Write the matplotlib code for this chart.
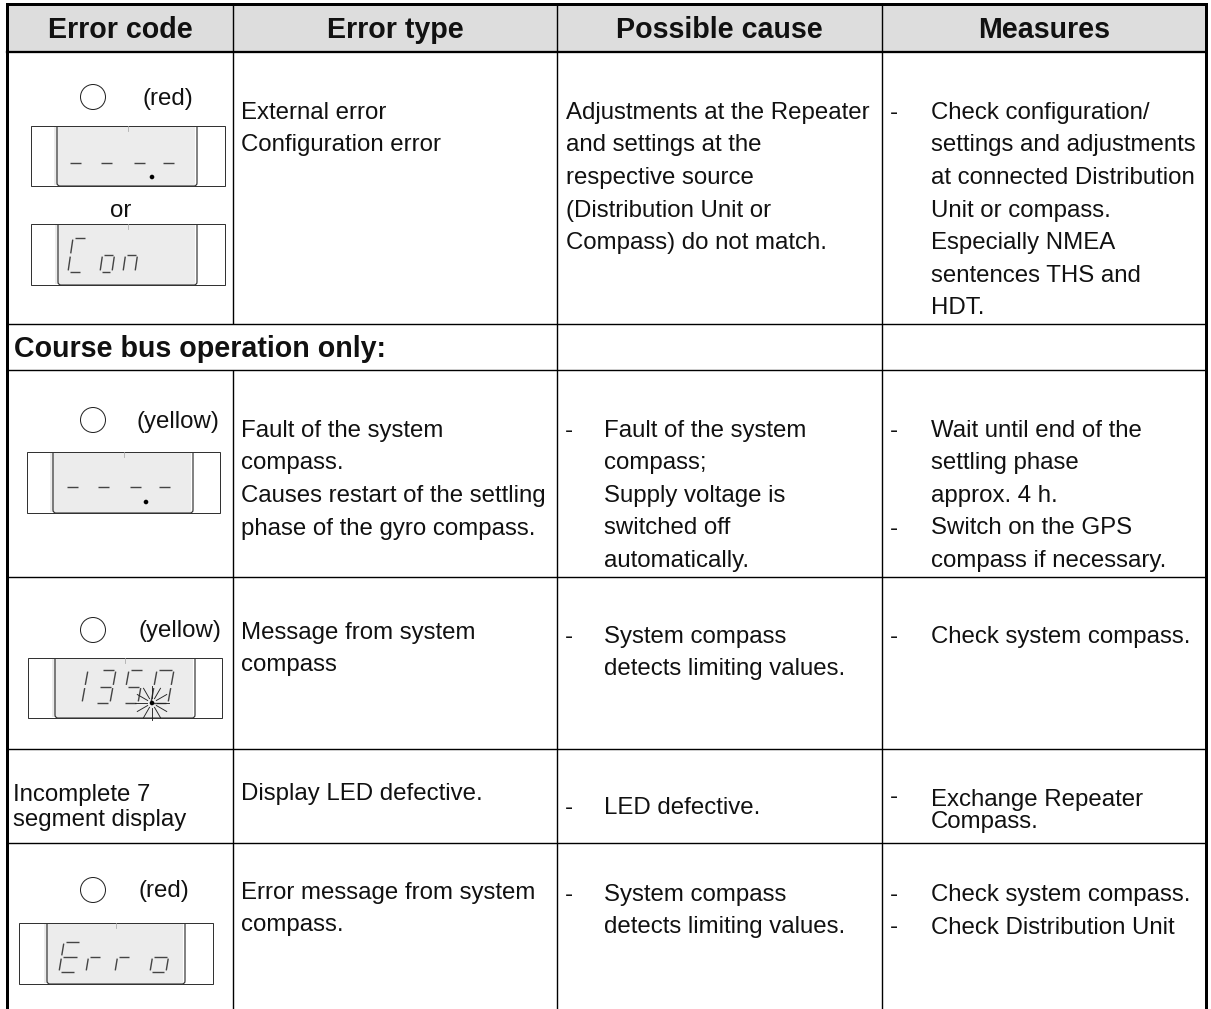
import matplotlib
matplotlib.use("Agg")
import matplotlib.pyplot as plt
from matplotlib.patches import Circle, Rectangle, PathPatch
from matplotlib.path import Path
import numpy as np

plt.rcParams['font.family'] = ['Liberation Sans', 'DejaVu Sans']

# ---------------- table content ----------------
header = ["Error code", "Error type", "Possible cause", "Measures"]
section_title = "Course bus operation only:"

led_colors = ["(red)", "(yellow)", "(yellow)", "(red)"]

row1_type = ["External error", "Configuration error"]
row1_cause = ["Adjustments at the Repeater", "and settings at the", "respective source",
              "(Distribution Unit or", "Compass) do not match."]
row1_measures = [["Check configuration/", "settings and adjustments", "at connected Distribution",
                  "Unit or compass.", "Especially NMEA", "sentences THS and", "HDT."]]

row3_type = ["Fault of the system", "compass.", "Causes restart of the settling",
             "phase of the gyro compass."]
row3_cause = [["Fault of the system", "compass;", "Supply voltage is", "switched off", "automatically."]]
row3_measures = [["Wait until end of the", "settling phase", "approx. 4 h."],
                 ["Switch on the GPS", "compass if necessary."]]

row4_type = ["Message from system", "compass"]
row4_cause = [["System compass", "detects limiting values."]]
row4_measures = [["Check system compass."]]

row5_code = ["Incomplete 7", "segment display"]
row5_type = ["Display LED defective."]
row5_cause = [["LED defective."]]
row5_measures = [["Exchange Repeater", "Compass."]]

row6_type = ["Error message from system", "compass."]
row6_cause = [["System compass", "detects limiting values."]]
row6_measures = [["Check system compass."], ["Check Distribution Unit"]]

display_texts = ["---.-", "Con", "---.-", "135.0", "Erro"]

# ---------------- layout (pixels) ----------------
W, H = 1211, 1009
fig = plt.figure(figsize=(W / 100, H / 100), dpi=100)
ax = fig.add_axes([0, 0, 1, 1])
ax.set_xlim(0, W)
ax.set_ylim(H, 0)
ax.axis('off')

PX = 0.72  # points per pixel
cols = [7, 233, 557, 882, 1206]
top_y, head_y = 4, 52
rows = [324, 370, 577, 749, 843]
TXT = '#111111'
BODY = 17.3
BOLD = 20.6

# header fill
ax.add_patch(Rectangle((cols[0], top_y), cols[-1] - cols[0], head_y - top_y,
                       facecolor='#dddddd', edgecolor='none', zorder=0))

def hline(y, x0, x1, lw):
    ax.plot([x0, x1], [y, y], color='black', lw=lw * PX, solid_capstyle='projecting', zorder=3)

def vline(x, y0, y1, lw):
    ax.plot([x, x], [y0, y1], color='black', lw=lw * PX, solid_capstyle='butt', zorder=3)

# outer borders
hline(top_y, cols[0], cols[-1], 3)
hline(head_y, cols[0], cols[-1], 2.3)
vline(cols[0], top_y - 1.5, H, 3)
vline(cols[-1], top_y - 1.5, H, 3)
for y in rows:
    hline(y, cols[0], cols[-1], 1.4)
# inner vertical lines
vline(cols[1], top_y, rows[0], 1.4)
vline(cols[1], rows[1], H, 1.4)
vline(cols[2], top_y, H, 1.4)
vline(cols[3], top_y, H, 1.4)

# header texts
for i, t in enumerate(header):
    ax.text((cols[i] + cols[i + 1]) / 2, 38, t, fontsize=BOLD, fontweight='bold',
            ha='center', va='baseline', color=TXT)
ax.text(14, 357, section_title, fontsize=BOLD, fontweight='bold', ha='left', va='baseline', color=TXT)

PITCH = 32.5

def lines(x, y0, items, pitch=PITCH, size=BODY):
    for k, t in enumerate(items):
        ax.text(x, y0 + k * pitch, t, fontsize=size, ha='left', va='baseline', color=TXT)

def bullets(xd, xt, y0, groups, pitch=PITCH, dash_dy=0):
    k = 0
    for g in groups:
        ax.text(xd, y0 + k * pitch + dash_dy, "-", fontsize=BODY, ha='left', va='baseline', color=TXT)
        for t in g:
            ax.text(xt, y0 + k * pitch, t, fontsize=BODY, ha='left', va='baseline', color=TXT)
            k += 1

TX = 241       # error type column text x
CX = 566       # cause column text x (no bullet)
CD, CT = 565, 604
MD, MT = 890, 931

# row 1
lines(TX, 119, row1_type)
lines(CX, 119, row1_cause)
bullets(MD, MT, 119, row1_measures)
# row 3
lines(TX, 437, row3_type)
bullets(CD, CT, 437, row3_cause)
bullets(MD, MT, 437, row3_measures)
# row 4
lines(TX, 639, row4_type)
bullets(CD, CT, 643, row4_cause)
bullets(MD, MT, 643, row4_measures)
# row 5
lines(13, 801, row5_code, pitch=25)
lines(TX, 800, row5_type)
bullets(CD, CT, 814, row5_cause)
bullets(MD, MT, 806, row5_measures, pitch=22, dash_dy=-3)
# row 6
lines(TX, 899, row6_type)
bullets(CD, CT, 901, row6_cause)
bullets(MD, MT, 901, row6_measures)

# ---------------- LED indicators ----------------
led_pos = [(93, 97, 142, 105), (93, 420, 137, 428), (93, 630, 138, 637), (93, 890, 139, 897)]
for (cx, cy, tx, ty), lab in zip(led_pos, led_colors):
    ax.add_patch(Circle((cx, cy), 12.5, facecolor='white', edgecolor='#222222', lw=1.0 * PX, zorder=4))
    ax.text(tx, ty, lab, fontsize=BODY, ha='left', va='baseline', color=TXT)

ax.text(121, 217, "or", fontsize=BODY, ha='center', va='baseline', color=TXT)

# ---------------- 7-segment displays ----------------
SEGS = {'-': 'g', '0': 'abcdef', '1': 'bc', '3': 'abcdg', '5': 'afgcd',
        'C': 'afed', 'o': 'gcde', 'n': 'gce', 'E': 'afged', 'r': 'ge'}

def draw_box(x0, x1, y0, y1, xl, xr):
    ax.add_patch(Rectangle((x0, y0), x1 - x0, y1 - y0, facecolor='white',
                           edgecolor='#333333', lw=1.0 * PX, zorder=4))
    ax.add_patch(Rectangle((xl - 3, y0 + 1), xr - xl + 1, y1 - y0 - 2, facecolor='#ececec',
                           edgecolor='none', zorder=4))
    r = 3
    verts = [(xl, y0 + 1), (xl, y1 - r), (xl, y1), (xl + r, y1), (xr - r, y1), (xr, y1),
             (xr, y1 - r), (xr, y0 + 1)]
    codes = [Path.MOVETO, Path.LINETO, Path.CURVE3, Path.CURVE3, Path.LINETO, Path.CURVE3,
             Path.CURVE3, Path.LINETO]
    ax.add_patch(PathPatch(Path(verts, codes), facecolor='none', edgecolor='#333333',
                           lw=1.2 * PX, zorder=5))
    xm = (x0 + x1) / 2
    ax.plot([xm, xm], [y0, y0 + 5], color='#aaaaaa', lw=0.8 * PX, zorder=5)

def draw_char(ch, x, ytop, ybot, w, sl, col='#444444', lw=1.4):
    h = ybot - ytop
    g = 1.6
    gv = g / h
    segdef = {
        'a': ((g, 1), (w - g, 1)),
        'b': ((w, 1 - gv), (w, 0.5 + gv)),
        'c': ((w, 0.5 - gv), (w, gv)),
        'd': ((g, 0), (w - g, 0)),
        'e': ((0, gv), (0, 0.5 - gv)),
        'f': ((0, 0.5 + gv), (0, 1 - gv)),
        'g': ((g, 0.5), (w - g, 0.5)),
    }
    for s in SEGS.get(ch, ''):
        (u0, v0), (u1, v1) = segdef[s]
        X = [x + u0 + sl * v0, x + u1 + sl * v1]
        Y = [ybot - v0 * h, ybot - v1 * h]
        ax.plot(X, Y, color=col, lw=lw * PX, solid_capstyle='butt', zorder=6)

def draw_display(text, box, cells, widths, ytop, ybot, sl, dot=None, flash=False):
    draw_box(*box)
    chars = [c for c in text if c != '.']
    for ch, cx, w in zip(chars, cells, widths):
        draw_char(ch, cx, ytop, ybot, w, sl)
    if dot is not None:
        ax.add_patch(Circle(dot, 2.3, facecolor='black', edgecolor='none', zorder=7))
        if flash:
            for ang in np.linspace(0, 2 * np.pi, 12, endpoint=False):
                ax.plot([dot[0] + 5 * np.cos(ang), dot[0] + 17 * np.cos(ang)],
                        [dot[1] + 5 * np.sin(ang), dot[1] + 17 * np.sin(ang)],
                        color='#222222', lw=0.9 * PX, zorder=7)

draw_display(display_texts[0], (31, 225, 126, 186, 57, 197), [66, 97, 130, 159], [14] * 4,
             146, 180, 5, dot=(152, 177))
draw_display(display_texts[1], (31, 225, 224, 285, 58, 197), [68, 100, 123], [14, 12, 12],
             238, 272, 5)
draw_display(display_texts[2], (27, 220, 452, 513, 53, 193), [63, 94, 126, 155], [14] * 4,
             470, 504, 5, dot=(146, 502))
draw_display(display_texts[3], (28, 222, 658, 718, 55, 195), [67, 95, 123, 151], [15, 15, 15, 17],
             670, 703, 6, dot=(152, 703), flash=True)
draw_display(display_texts[4], (19, 213, 923, 984, 47, 185), [59, 86, 115, 150], [17, 13, 13, 16],
             942, 972, 5)

fig.savefig("out.png", dpi=100)
